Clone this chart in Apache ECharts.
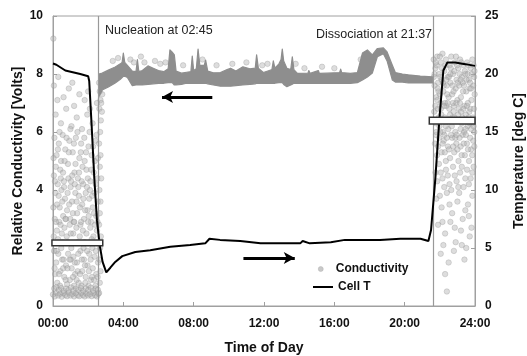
<!DOCTYPE html>
<html><head><meta charset="utf-8">
<script src="https://cdn.jsdelivr.net/npm/echarts@6/dist/echarts.min.js"></script>
<style>html,body{margin:0;padding:0;background:#fff}#c{width:527px;height:356px}</style>
</head><body><div id="c"></div>
<script>
// ---- DATA ----
const xTicks = [0, 4, 8, 12, 16, 20, 24];
const xTickLabels = ['00:00', '04:00', '08:00', '12:00', '16:00', '20:00', '24:00'];
const leftTicks = [0, 2, 4, 6, 8, 10];
const rightTicks = [0, 5, 10, 15, 20, 25];

// Cell temperature (hours, deg C) - right axis
const tempT = [0, 0.19, 0.7, 1.55, 2.0, 2.06, 2.2, 2.35, 2.5, 2.65, 2.82, 3.03, 3.26, 3.54, 3.94, 4.68, 5.53, 6.67, 7.8, 8.66, 8.9, 9.5, 10.65, 11.8, 12.9, 14.06, 14.2, 14.6, 15.8, 16.6, 17.5, 18.6, 19.75, 20.9, 21.35, 21.5, 21.74, 21.97, 22.2, 22.43, 22.88, 23.45, 24];
const tempC = [20.9, 20.8, 20.3, 20.0, 19.8, 19.4, 15.5, 11.0, 7.4, 5.3, 3.8, 2.9, 3.3, 3.8, 4.3, 4.65, 4.8, 5.1, 5.25, 5.4, 5.8, 5.7, 5.6, 5.4, 5.4, 5.4, 5.6, 5.4, 5.5, 5.7, 5.7, 5.7, 5.8, 5.8, 5.6, 6.55, 10.9, 16.0, 20.3, 21.0, 21.0, 20.85, 20.7];

// Conductivity band (hydrate period): time, lower edge, upper edge (Volts)
const bandT  = [2.6, 2.8, 3.15, 3.54, 3.83, 3.93, 4.0, 4.08, 4.23, 4.51, 4.72, 4.8, 4.88, 5.08, 5.4, 5.7, 6.0, 6.3, 6.55, 6.65, 6.78, 6.9, 7.0, 7.3, 7.6, 7.84, 7.92, 8.0, 8.15, 8.25, 8.35, 8.6, 8.68, 8.8, 9.12, 9.52, 9.9, 10.1, 10.4, 10.8, 11.2, 11.5, 11.58, 11.68, 11.96, 12.3, 12.45, 12.53, 12.62, 12.85, 12.97, 13.04, 13.12, 13.3, 13.52, 13.61, 13.7, 13.9, 14.5, 14.55, 14.62, 15.09, 15.15, 15.6, 16.3, 16.36, 16.42, 16.91, 17.31, 17.6, 17.88, 18.16, 18.45, 18.79, 19.0, 19.3, 19.47, 19.87, 20.21, 20.89, 21.6];
const bandLo = [7.2, 7.45, 7.55, 7.69, 7.82, 7.88, 7.92, 7.92, 7.88, 7.6, 7.62, 7.62, 7.62, 7.62, 7.64, 7.66, 7.68, 7.68, 7.7, 7.7, 7.7, 7.62, 7.62, 7.64, 7.68, 7.68, 7.68, 7.68, 7.68, 7.68, 7.68, 7.68, 7.68, 7.66, 7.62, 7.58, 7.58, 7.58, 7.6, 7.62, 7.64, 7.66, 7.68, 7.68, 7.68, 7.68, 7.68, 7.68, 7.68, 7.7, 7.7, 7.7, 7.64, 7.56, 7.62, 7.65, 7.68, 7.68, 7.68, 7.68, 7.68, 7.68, 7.68, 7.68, 7.68, 7.68, 7.68, 7.68, 7.7, 7.79, 7.9, 8.03, 8.6, 8.7, 8.45, 7.79, 7.72, 7.72, 7.69, 7.69, 7.69];
const bandHi = [8.0, 8.03, 8.14, 8.24, 8.35, 8.4, 8.72, 8.4, 8.3, 8.1, 8.08, 8.5, 8.08, 8.12, 8.28, 8.2, 8.12, 8.08, 8.18, 8.83, 8.75, 8.66, 8.1, 8.03, 8.06, 8.08, 8.62, 8.12, 8.18, 8.86, 8.3, 8.3, 8.48, 8.1, 8.04, 8.05, 8.15, 8.2, 8.1, 8.25, 8.18, 8.2, 8.66, 8.2, 8.05, 8.12, 8.15, 8.45, 8.2, 8.35, 8.5, 8.86, 8.45, 8.2, 8.15, 8.59, 8.15, 8.02, 8.03, 8.12, 8.02, 8.12, 8.02, 8.03, 8.05, 8.17, 8.05, 8.02, 8.05, 8.72, 8.83, 8.66, 8.88, 8.9, 8.76, 8.3, 8.05, 8.0, 7.97, 7.93, 7.9];

// Loose conductivity points above the band
const condFuzz = [[3.4,8.45],[3.7,8.55],[4.4,8.5],[4.6,8.4],[5.0,8.6],[5.2,8.4],[5.8,8.45],[6.1,8.35],[6.4,8.4],[7.4,8.3],[8.5,8.5],[9.3,8.3],[10.2,8.35],[11.0,8.4],[11.9,8.3],[12.2,8.35],[13.8,8.35],[14.3,8.2],[15.3,8.25],[16.0,8.2],[17.5,8.5],[17.7,8.6],[17.95,8.4],[18.1,8.5]];

// Conductivity scatter before nucleation (hours, Volts)
const condLeft = [
 [0.02,9.22],[0.05,7.6],[0.3,7.9],[0.6,7.2],[0.9,7.5],[1.2,6.9],[1.5,7.3],[1.8,7.1],[2.1,6.8],[0.15,6.6],[0.45,6.3],[0.75,6.8],[1.05,6.2],[1.35,6.5],[1.65,6.1],[1.95,6.6],[2.25,6.3],[2.5,7.0],[0.25,7.1],[1.1,7.7],[2.0,7.4],
 [0.08,5.8],[0.2,5.2],[0.33,5.6],[0.41,4.7],[0.55,5.9],[0.62,4.3],[0.7,5.4],[0.85,4.9],[0.93,5.7],[1.0,4.1],[1.12,5.3],[1.22,4.6],[1.3,5.8],[1.42,4.4],[1.5,5.1],[1.6,5.6],[1.72,4.2],[1.8,5.0],[1.9,4.7],[2.02,5.5],[2.1,4.0],[2.2,5.2],[2.32,4.6],[2.42,5.7],[2.52,4.4],
 [0.05,4.5],[0.14,3.9],[0.27,4.2],[0.38,3.4],[0.48,4.0],[0.58,3.1],[0.68,3.7],[0.8,3.3],[0.88,4.4],[0.98,3.0],[1.08,3.6],[1.18,2.9],[1.27,3.9],[1.37,3.2],[1.47,3.8],[1.56,2.8],[1.66,3.5],[1.76,3.0],[1.86,3.9],[1.96,3.3],[2.06,3.7],[2.16,2.9],[2.26,3.4],[2.36,3.9],[2.46,3.1],[2.55,3.6],
 [0.1,3.0],[0.22,2.6],[0.35,2.9],[0.5,2.5],[0.65,2.7],[0.78,2.4],[0.95,2.8],[1.15,2.5],[1.33,2.7],[1.52,2.4],[1.7,2.6],[1.9,2.5],[2.12,2.7],[2.3,2.4],[2.5,2.6],
 [0.06,1.9],[0.18,1.5],[0.3,1.8],[0.42,1.2],[0.52,1.6],[0.64,1.0],[0.74,1.4],[0.86,1.8],[0.96,0.9],[1.06,1.3],[1.16,1.7],[1.26,1.1],[1.36,1.5],[1.46,0.8],[1.56,1.9],[1.66,1.2],[1.76,1.6],[1.86,1.0],[1.96,1.4],[2.06,1.8],[2.16,0.9],[2.26,1.3],[2.36,1.7],[2.46,1.1],[2.56,1.5],
 [0.12,1.1],[0.24,0.8],[0.4,0.7],[0.58,1.3],[0.8,0.75],[1.0,1.6],[1.2,0.7],[1.4,1.2],[1.62,0.7],[1.82,1.4],[2.02,0.7],[2.22,1.0],[2.42,0.7],
 [0.0,0.4],[0.1,0.33],[0.2,0.45],[0.3,0.36],[0.4,0.42],[0.5,0.32],[0.6,0.44],[0.7,0.38],[0.8,0.34],[0.9,0.46],[1.0,0.36],[1.1,0.41],[1.2,0.33],[1.3,0.44],[1.4,0.37],[1.5,0.34],[1.6,0.45],[1.7,0.38],[1.8,0.33],[1.9,0.43],[2.0,0.36],[2.1,0.41],[2.2,0.34],[2.3,0.45],[2.4,0.37],[2.5,0.33],[2.58,0.42],
 [0.03,5.1],[0.16,4.8],[0.28,5.4],[0.37,6.0],[0.46,5.0],[0.57,4.6],[0.66,5.0],[0.77,5.8],[0.9,5.3],[0.99,6.1],[1.09,4.5],[1.19,5.6],[1.28,4.9],[1.39,6.0],[1.48,4.6],[1.58,5.3],[1.68,4.8],[1.78,5.8],[1.88,5.3],[1.98,4.4],[2.08,6.0],[2.18,4.7],[2.28,5.5],[2.38,5.0],[2.48,5.9],[2.56,5.1],
 [0.02,3.4],[0.11,4.3],[0.23,3.5],[0.32,3.8],[0.44,4.4],[0.53,3.6],[0.63,4.1],[0.73,3.0],[0.83,3.9],[0.92,3.5],[1.03,4.3],[1.13,3.2],[1.24,4.2],[1.34,3.6],[1.44,4.1],[1.53,3.4],[1.63,4.3],[1.73,3.7],[1.83,3.3],[1.93,4.1],[2.03,3.1],[2.13,4.3],[2.23,3.8],[2.33,3.2],[2.43,4.2],[2.53,2.9],
 [0.04,2.4],[0.17,2.9],[0.29,2.3],[0.43,2.8],[0.56,2.2],[0.71,3.0],[0.84,2.2],[1.01,2.5],[1.21,2.9],[1.41,2.2],[1.6,2.9],[1.8,2.2],[2.0,2.9],[2.2,2.3],[2.4,2.8],
 [0.09,1.3],[0.21,1.9],[0.34,1.1],[0.47,2.0],[0.6,1.6],[0.72,0.9],[0.82,1.3],[0.94,1.6],[1.04,2.0],[1.14,1.0],[1.24,1.5],[1.34,0.9],[1.44,1.8],[1.54,1.1],[1.64,1.6],[1.74,2.0],[1.84,0.8],[1.94,1.9],[2.04,1.2],[2.14,1.6],[2.24,2.0],[2.34,0.9],[2.44,1.9],[2.54,1.0],
 [0.07,0.6],[0.19,0.65],[0.33,0.55],[0.47,0.62],[0.61,0.52],[0.75,0.6],[0.89,0.55],[1.03,0.64],[1.17,0.53],[1.31,0.6],[1.45,0.55],[1.59,0.62],[1.73,0.52],[1.87,0.6],[2.01,0.55],[2.15,0.63],[2.29,0.53],[2.43,0.6],[2.55,0.56]
];
// Conductivity drop at nucleation
const condStreak = [[2.62,7.7],[2.66,7.4],[2.7,7.1],[2.64,6.8],[2.72,6.4],[2.68,6.0],[2.62,5.6],[2.7,5.2],[2.66,4.8],[2.74,4.4],[2.64,4.0],[2.7,3.6],[2.66,3.2],[2.62,2.8],[2.72,2.4],[2.68,2.0],[2.64,1.6],[2.7,1.2],[2.66,0.8],[2.62,0.45],[2.76,7.6],[2.8,7.3],[2.74,7.0],[2.78,6.7]];
// Conductivity scatter after dissociation
const condRight = [
 [21.65,8.5],[21.75,8.2],[21.85,8.6],[21.95,8.0],[22.05,8.4],[22.15,8.7],[22.25,8.1],[22.35,8.5],[22.45,7.9],[22.55,8.3],[22.65,8.6],[22.75,8.0],[22.85,8.4],[22.95,7.8],[23.05,8.2],[23.15,8.5],[23.25,7.9],[23.35,8.3],[23.45,8.0],[23.55,8.4],[23.65,7.8],[23.75,8.2],[23.85,8.5],[23.95,7.9],
 [21.7,7.6],[21.8,7.2],[21.9,7.7],[22.0,7.3],[22.1,7.8],[22.2,7.4],[22.3,7.0],[22.4,7.6],[22.5,7.2],[22.6,7.7],[22.7,7.3],[22.8,6.9],[22.9,7.5],[23.0,7.1],[23.1,7.6],[23.2,7.2],[23.3,7.7],[23.4,6.9],[23.5,7.4],[23.6,7.0],[23.7,7.5],[23.8,7.1],[23.9,7.6],[23.98,7.3],
 [21.68,6.7],[21.78,6.3],[21.88,6.8],[21.98,6.2],[22.08,6.6],[22.18,6.0],[22.28,6.5],[22.38,6.9],[22.48,6.1],[22.58,6.6],[22.68,6.2],[22.78,6.7],[22.88,6.0],[22.98,6.4],[23.08,6.8],[23.18,6.1],[23.28,6.5],[23.38,6.0],[23.48,6.6],[23.58,6.2],[23.68,6.7],[23.78,6.1],[23.88,6.5],[23.96,6.0],
 [21.72,5.6],[21.84,5.2],[21.96,5.8],[22.1,5.3],[22.22,5.7],[22.34,5.0],[22.46,5.5],[22.58,5.1],[22.7,5.8],[22.82,5.3],[22.94,5.6],[23.06,5.0],[23.18,5.5],[23.3,5.9],[23.42,5.2],[23.54,5.6],[23.66,5.0],[23.78,5.4],[23.9,5.7],
 [21.75,4.6],[21.95,4.9],[22.15,4.4],[22.35,4.7],[22.55,4.2],[22.75,4.8],[22.95,4.3],[23.15,4.6],[23.35,4.1],[23.55,4.7],[23.75,4.4],[23.92,4.8],
 [21.8,3.7],[22.1,3.4],[22.4,3.9],[22.7,3.2],[23.0,3.6],[23.3,3.0],[23.6,3.5],[23.85,3.8],[21.9,2.8],[22.3,2.5],[22.6,2.9],[22.9,2.2],[23.2,2.6],[23.5,2.0],[23.8,2.7],[22.05,1.8],[22.5,1.5],[22.8,1.9],[23.4,1.6],[22.3,1.1],[22.4,0.5],[22.2,2.1],[23.65,3.1],
 [21.7,8.0],[21.82,8.3],[21.92,7.4],[22.02,7.9],[22.12,8.2],[22.22,7.6],[22.32,8.3],[22.42,7.3],[22.52,7.9],[22.62,8.2],[22.72,7.6],[22.82,8.1],[22.92,8.6],[23.02,7.7],[23.12,8.0],[23.22,8.4],[23.32,7.4],[23.42,8.1],[23.52,7.8],[23.62,8.3],[23.72,7.7],[23.82,8.0],[23.92,8.3],
 [21.74,6.9],[21.86,7.1],[21.94,6.5],[22.04,7.0],[22.14,6.4],[22.24,6.9],[22.34,6.2],[22.44,7.0],[22.54,6.8],[22.64,6.4],[22.74,7.0],[22.84,6.5],[22.94,7.0],[23.04,6.6],[23.14,7.0],[23.24,6.3],[23.34,6.8],[23.44,6.4],[23.54,6.9],[23.64,6.5],[23.74,6.8],[23.84,6.3],[23.94,6.8],
 [21.78,5.9],[21.9,5.5],[22.02,6.0],[22.16,5.6],[22.28,5.3],[22.4,5.8],[22.52,5.4],[22.64,5.9],[22.76,5.5],[22.88,5.8],[23.0,5.4],[23.12,5.8],[23.24,5.2],[23.36,5.6],[23.48,5.9],[23.6,5.4],[23.72,5.8],[23.84,5.2],[23.96,5.5],
 [21.85,4.3],[22.05,4.6],[22.25,4.1],[22.45,4.5],[22.65,4.0],[22.85,4.5],[23.05,4.1],[23.25,4.8],[23.45,4.4],[23.65,4.2],[23.85,4.6],
 [22.0,3.8],[22.55,3.5],[23.1,3.9],[23.45,3.3],[23.7,2.4],[22.15,2.9],[22.85,2.7],[23.25,2.1],
 [21.66,7.9],[21.76,8.4],[21.88,7.5],[22.0,8.6],[22.18,7.7],[22.36,7.8],[22.6,8.0],[22.78,7.4],[22.98,8.3],[23.18,7.8],[23.38,7.6],[23.58,8.0],[23.78,7.5],[23.97,8.1],
 [21.8,6.0],[22.06,6.8],[22.26,5.9],[22.5,6.4],[22.72,6.5],[22.96,5.9],[23.2,6.7],[23.46,6.1],[23.7,6.3],[23.92,6.2]
];
// Event times (hours) and white marker boxes [t0, t1, Tlow, Thigh] on temperature axis
const eventTimes = [2.6, 21.62];
const boxes = [[-0.06, 2.83, 5.2, 5.69], [21.4, 24, 15.69, 16.27]];
// Arrows [tStart, tEnd, Volts]
const arrows = [[9.06, 6.2, 7.21], [10.83, 13.75, 1.655]];

// ---- CHART ----
const chart = echarts.init(document.getElementById('c'), null, {renderer: 'canvas'});
const FONT = 'Liberation Sans, Arial, sans-serif';
const axisGray = '#a0a0a0';
const scatterStyle = {color: 'rgba(178,178,178,0.55)', borderColor: 'rgba(135,135,135,0.5)', borderWidth: 0.7};
const legendText = {fontFamily: FONT, fontWeight: 'bold', fontSize: 12, color: '#111', lineHeight: 14};

chart.setOption({
  animation: false,
  backgroundColor: '#fff',
  grid: {left: 53, right: 52, top: 16, bottom: 50, show: true, borderColor: axisGray, borderWidth: 1, outerBoundsMode: 'none', containLabel: false},
  legend: [
    {left: 318, top: 262, padding: 0, itemWidth: 20, itemHeight: 5, textStyle: legendText,
     data: [{name: 'Conductivity', icon: 'circle', itemStyle: {color: '#bbb', borderColor: '#aaa', borderWidth: 0.5}}]},
    {left: 313, top: 280, padding: 0, itemWidth: 20, itemHeight: 2, textStyle: legendText,
     data: [{name: 'Cell T', icon: 'rect', itemStyle: {color: '#000'}}]}
  ],
  graphic: [
    {type: 'text', left: 105, top: 24, style: {text: 'Nucleation at 02:45', font: '12.5px ' + FONT, fill: '#222'}},
    {type: 'text', left: 316, top: 28, style: {text: 'Dissociation at 21:37', font: '12.5px ' + FONT, fill: '#222'}}
  ],
  xAxis: {
    type: 'value', min: xTicks[0], max: xTicks[xTicks.length - 1], interval: 4,
    name: 'Time of Day', nameLocation: 'middle', nameGap: 35, nameMoveOverlap: false,
    nameTextStyle: {fontFamily: FONT, fontWeight: 'bold', fontSize: 14, color: '#111'},
    axisLine: {lineStyle: {color: axisGray}}, axisTick: {inside: true, length: 4, lineStyle: {color: axisGray}},
    splitLine: {show: false},
    axisLabel: {margin: 12, fontFamily: FONT, fontWeight: 'bold', fontSize: 12, color: '#111',
      formatter: v => xTickLabels[xTicks.indexOf(v)]}
  },
  yAxis: [{
    type: 'value', min: leftTicks[0], max: leftTicks[leftTicks.length - 1], interval: 2,
    name: 'Relative Conductivity [Volts]', nameLocation: 'middle', nameGap: 28, nameMoveOverlap: false,
    nameTextStyle: {fontFamily: FONT, fontWeight: 'bold', fontSize: 14, color: '#111'},
    axisLine: {show: true, lineStyle: {color: axisGray}}, axisTick: {show: true, inside: true, length: 4, lineStyle: {color: axisGray}},
    splitLine: {show: false},
    axisLabel: {margin: 10, fontFamily: FONT, fontWeight: 'bold', fontSize: 12, color: '#111'}
  }, {
    type: 'value', position: 'right', min: rightTicks[0], max: rightTicks[rightTicks.length - 1], interval: 5,
    name: 'Temperature [deg C]', nameLocation: 'middle', nameGap: 37, nameRotate: 90, nameMoveOverlap: false,
    nameTextStyle: {fontFamily: FONT, fontWeight: 'bold', fontSize: 14, color: '#111'},
    axisLine: {show: true, lineStyle: {color: axisGray}}, axisTick: {show: true, inside: true, length: 4, lineStyle: {color: axisGray}},
    splitLine: {show: false},
    axisLabel: {margin: 10, fontFamily: FONT, fontWeight: 'bold', fontSize: 12, color: '#111'}
  }],
  series: [
    {
      name: 'Conductivity', type: 'scatter', yAxisIndex: 0, symbol: 'circle', symbolSize: 5.5, z: 2,
      itemStyle: scatterStyle, silent: true,
      data: condLeft.concat(condStreak, condRight, condFuzz)
    },
    {
      name: 'band', type: 'custom', yAxisIndex: 0, z: 3, silent: true,
      data: [[bandT[0], bandLo[0]]], encode: {x: 0, y: 1},
      renderItem: (params, api) => {
        const pts = [];
        for (let i = 0; i < bandT.length; i++) pts.push(api.coord([bandT[i], bandHi[i]]));
        for (let i = bandT.length - 1; i >= 0; i--) pts.push(api.coord([bandT[i], bandLo[i]]));
        return {type: 'polygon', shape: {points: pts}, style: {fill: '#8e8e8e', stroke: '#8e8e8e', lineWidth: 1.2, lineJoin: 'round'}};
      },
      markLine: {
        silent: true, symbol: ['none', 'arrow'], symbolSize: [9, 11], animation: false,
        lineStyle: {color: '#000', width: 3, type: 'solid'}, label: {show: false},
        data: arrows.map(a => [{coord: [a[0], a[2]]}, {coord: [a[1], a[2]]}])
      }
    },
    {
      name: 'Cell T', type: 'line', yAxisIndex: 1, symbol: 'none', z: 5, silent: true,
      lineStyle: {color: '#000', width: 2}, itemStyle: {color: '#000'},
      data: tempT.map((t, i) => [t, tempC[i]]),
      markLine: {
        silent: true, symbol: 'none', animation: false, label: {show: false},
        lineStyle: {color: '#999', width: 1.2, type: 'solid'},
        data: eventTimes.map(t => ({xAxis: t}))
      }
    },
    {
      name: 'boxes', type: 'custom', yAxisIndex: 1, z: 10, silent: true,
      data: boxes, encode: {x: [0, 1], y: [2, 3]},
      renderItem: (params, api) => {
        const a = api.coord([api.value(0), api.value(3)]);
        const b = api.coord([api.value(1), api.value(2)]);
        return {type: 'rect', shape: {x: a[0], y: a[1], width: b[0] - a[0], height: b[1] - a[1]},
          style: {fill: '#fff', stroke: '#333', lineWidth: 1.5}};
      }
    }
  ]
});
</script></body></html>
